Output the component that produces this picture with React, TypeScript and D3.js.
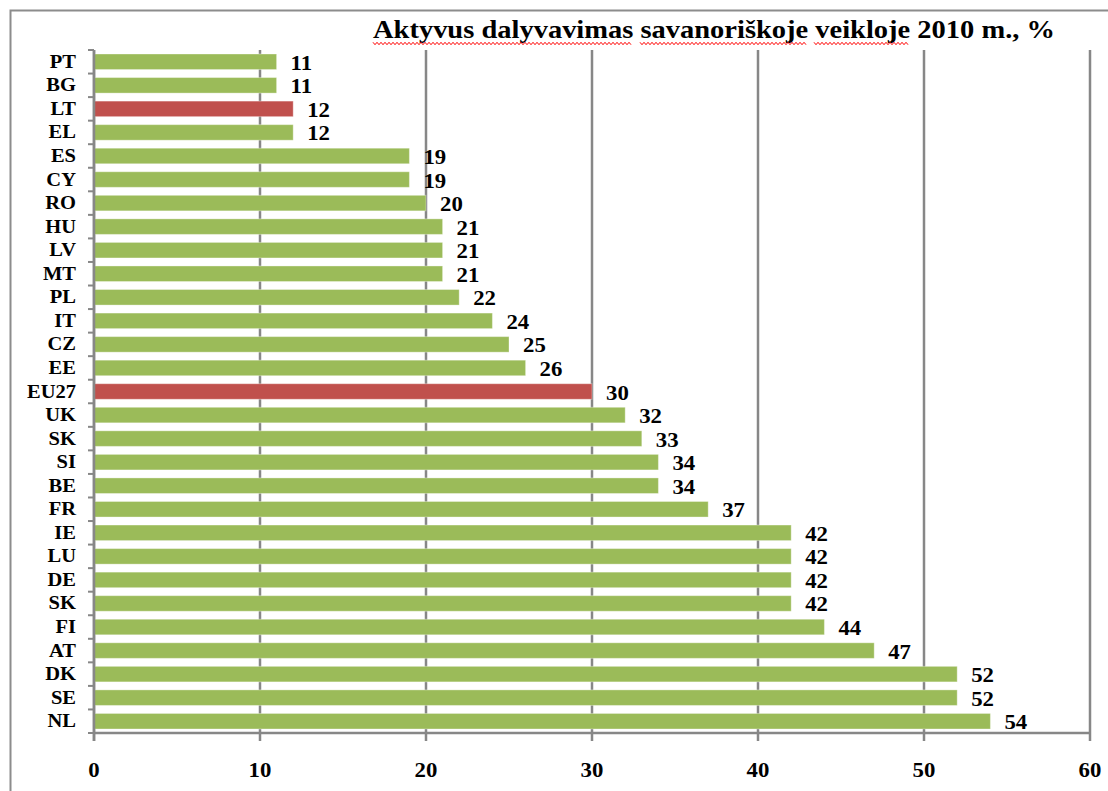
import React from "react";
import * as d3 from "d3";

const categories = ["PT","BG","LT","EL","ES","CY","RO","HU","LV","MT","PL","IT","CZ","EE","EU27","UK","SK","SI","BE","FR","IE","LU","DE","SK","FI","AT","DK","SE","NL"];
const values = [11,11,12,12,19,19,20,21,21,21,22,24,25,26,30,32,33,34,34,37,42,42,42,42,44,47,52,52,54];
const highlighted = ["LT","EU27"];
const xTicks = [0,10,20,30,40,50,60];
const title = "Aktyvus dalyvavimas savanoriškoje veikloje  2010 m., %";

const W = 1108, H = 791;
const GREEN = "#9BBB59", RED = "#C0504D", GRID = "#878787";
const FONT = "Liberation Serif";
const SX = 1.14;

export default function App() {
  const x = d3.scaleLinear().domain([0, 60]).range([94, 1090]);
  const idx = categories.map((_, i) => String(i));
  const y = d3.scaleBand<string>().domain(idx).range([50, 733]).paddingInner(0.34).paddingOuter(0.17);
  const step = y.step();
  const y0 = 50, yBottom = 733;

  const squiggle = (x1: number, x2: number, yy: number) => {
    const pts: [number, number][] = [];
    let k = 0;
    for (let xx = x1; xx <= x2; xx += 2) {
      pts.push([xx, yy + (k % 2 === 0 ? -1.2 : 1.2)]);
      k++;
    }
    return d3.line()(pts) || "";
  };

  const ts: React.CSSProperties = { fontFamily: FONT, fontWeight: 700 };

  return (
    <svg width={W} height={H} style={{ position: "absolute", left: 0, top: 0, background: "#fff" }}>
      <rect x={10.5} y={10.5} width={1120} height={800} fill="#fff" stroke="#8c8c8c" strokeWidth={2} />
      {/* title */}
      <text x={373} y={38} style={ts} fontSize={25} textLength={682} lengthAdjust="spacingAndGlyphs" fill="#000">{title}</text>
      {[[373, 632], [640, 806], [814, 909]].map(([a, b], i) => (
        <path key={i} d={squiggle(a, b, 43.5)} fill="none" stroke="#ff0000" strokeWidth={1} />
      ))}
      {/* gridlines */}
      {xTicks.map((t) => (
        <line key={t} x1={x(t)} x2={x(t)} y1={y0} y2={741} stroke={GRID} strokeWidth={2.5} />
      ))}
      {/* bars */}
      {values.map((v, i) => (
        <rect key={i} x={x(0)} y={y(String(i))} width={x(v) - x(0)} height={y.bandwidth()}
          fill={highlighted.includes(categories[i]) ? RED : GREEN} stroke="rgba(255,255,255,0.35)" strokeWidth={1} />
      ))}
      {/* axes */}
      <line x1={x(0)} x2={x(60)} y1={yBottom} y2={yBottom} stroke={GRID} strokeWidth={2.5} />
      <line x1={x(0)} x2={x(0)} y1={y0} y2={741} stroke={GRID} strokeWidth={2.5} />
      {d3.range(categories.length + 1).map((i) => (
        <line key={i} x1={88} x2={x(0)} y1={y0 + i * step} y2={y0 + i * step} stroke={GRID} strokeWidth={2} />
      ))}
      {/* category labels */}
      {categories.map((c, i) => (
        <text key={i} transform={`translate(76,${(y(String(i)) as number) + y.bandwidth() / 2 + 6}) scale(${SX},1)`}
          textAnchor="end" style={ts} fontSize={18} fill="#000">{c}</text>
      ))}
      {/* value labels */}
      {values.map((v, i) => (
        <text key={i} transform={`translate(${x(v) + 14},${(y(String(i)) as number) + y.bandwidth() / 2 + 8}) scale(${SX},1)`}
          style={ts} fontSize={20} fill="#000">{v}</text>
      ))}
      {/* x tick labels */}
      {xTicks.map((t) => (
        <text key={t} transform={`translate(${x(t)},777) scale(${SX},1)`} textAnchor="middle" style={ts} fontSize={20} fill="#000">{t}</text>
      ))}
    </svg>
  );
}
